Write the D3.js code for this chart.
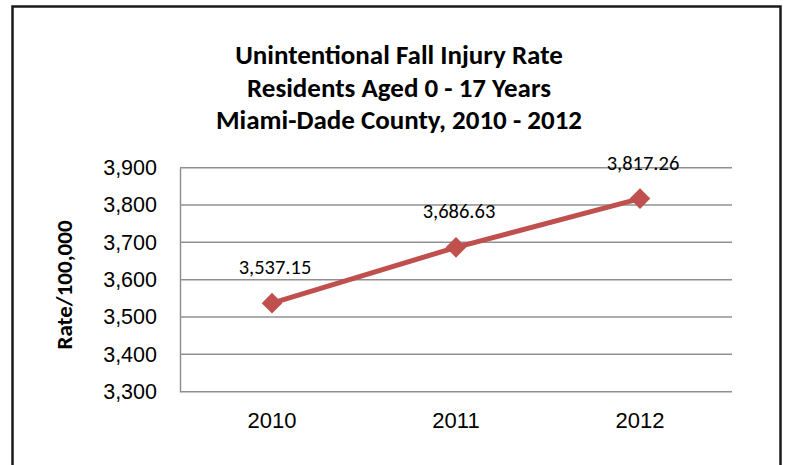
<!DOCTYPE html>
<html>
<head>
<meta charset="utf-8">
<script src="https://cdn.jsdelivr.net/npm/d3@7"></script>
<style>
  body { margin: 0; background: #fff; }
  svg { display: block; font-family: Carlito, Calibri, Lato, sans-serif; }
</style>
</head>
<body>
<div id="chart"></div>
<script>
// data
var years = ["2010", "2011", "2012"];
var rates = [3537.15, 3686.63, 3817.26];
var yTicks = [3300, 3400, 3500, 3600, 3700, 3800, 3900];
var titleLines = ["Unintentional Fall Injury Rate", "Residents Aged 0 - 17 Years", "Miami-Dade County, 2010 - 2012"];
var yLabel = "Rate/100,000";

var W = 786, H = 465;
var svg = d3.select("#chart").append("svg").attr("width", W).attr("height", H);

// outer chart frame (bottom runs past the picture)
svg.append("rect")
   .attr("x", 12.5).attr("y", 6.5)
   .attr("width", 768).attr("height", 480)
   .attr("fill", "#fff")
   .attr("stroke", "#1a1a1a").attr("stroke-width", 2.5);

var margin = {left: 180, top: 167.7, right: 732, bottom: 391.7};

var x = d3.scaleBand().domain(years).range([margin.left, margin.right]);
var y = d3.scaleLinear().domain([3300, 3900]).range([margin.bottom, margin.top]);

// title
svg.append("g").selectAll("text")
   .data(titleLines)
   .enter().append("text")
   .attr("x", 399)
   .attr("y", function(d, i) { return 64 + i * 32.5; })
   .attr("text-anchor", "middle")
   .attr("font-weight", "bold")
   .attr("font-size", 27)
   .attr("fill", "#000")
   .text(function(d) { return d; });

// gridlines
svg.append("g").selectAll("line")
   .data(yTicks)
   .enter().append("line")
   .attr("x1", margin.left).attr("x2", margin.right)
   .attr("y1", function(d) { return y(d); })
   .attr("y2", function(d) { return y(d); })
   .attr("stroke", "#909090").attr("stroke-width", 1.5);

// y axis
var yAxis = svg.append("g")
   .attr("transform", "translate(" + margin.left + ",0)")
   .call(d3.axisLeft(y).tickValues(yTicks).tickFormat(d3.format(",")).tickSize(0).tickPadding(23));
yAxis.select(".domain").attr("stroke", "#909090").attr("stroke-width", 1.5);
yAxis.selectAll("text").attr("font-size", 21.5).attr("fill", "#000").attr("font-family", null);

// x axis labels
var xAxis = svg.append("g")
   .attr("transform", "translate(0," + margin.bottom + ")")
   .call(d3.axisBottom(x).tickSize(0).tickPadding(21));
xAxis.select(".domain").remove();
xAxis.selectAll("text").attr("font-size", 22).attr("fill", "#000").attr("font-family", null);

// y label
svg.append("text")
   .attr("transform", "translate(72,285) rotate(-90)")
   .attr("text-anchor", "middle")
   .attr("font-weight", "bold")
   .attr("font-size", 23)
   .text(yLabel);

// line
var pts = years.map(function(d, i) { return {year: d, value: rates[i]}; });
var line = d3.line()
   .x(function(d) { return x(d.year) + x.bandwidth() / 2; })
   .y(function(d) { return y(d.value); });

svg.append("path")
   .datum(pts)
   .attr("d", line)
   .attr("fill", "none")
   .attr("stroke", "#c0504d")
   .attr("stroke-width", 5);

svg.append("g").selectAll("path")
   .data(pts)
   .enter().append("path")
   .attr("transform", function(d) { return "translate(" + (x(d.year) + x.bandwidth() / 2) + "," + y(d.value) + ")"; })
   .attr("d", d3.symbol().type(d3.symbolDiamond2).size(270))
   .attr("fill", "#c0504d");

// data labels
svg.append("g").selectAll("text")
   .data(pts)
   .enter().append("text")
   .attr("x", function(d) { return x(d.year) + x.bandwidth() / 2 + 3; })
   .attr("y", function(d) { return y(d.value) - 29; })
   .attr("text-anchor", "middle")
   .attr("font-size", 20.5)
   .attr("fill", "#000")
   .text(function(d) { return d3.format(",.2f")(d.value); });
</script>
</body>
</html>
